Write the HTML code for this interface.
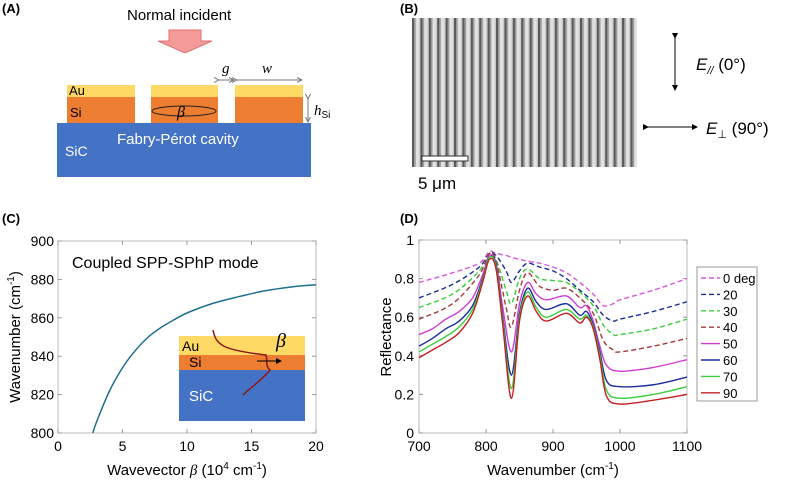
<!DOCTYPE html>
<html><head><meta charset="utf-8"><style>
body{margin:0;background:#fff;width:786px;height:481px;overflow:hidden;font-family:"Liberation Sans",sans-serif}
svg{position:absolute;left:0;top:0}
</style></head><body>
<svg width="786" height="481" viewBox="0 0 786 481" font-family="Liberation Sans, sans-serif">
<defs>
<pattern id="stripes" x="412" y="0" width="8.4" height="10" patternUnits="userSpaceOnUse">
<rect width="8.4" height="10" fill="#c8c8c8"/><rect x="0" width="2" height="10" fill="#5a5a5a"/><rect x="2" width="1.6" height="10" fill="#9a9a9a"/><rect x="4" width="3" height="10" fill="#e2e2e2"/>
</pattern>
<marker id="ah" markerWidth="6" markerHeight="6" refX="5" refY="3" orient="auto"><path d="M0,0L6,3L0,6z" fill="#000"/></marker>
<marker id="ahg" markerWidth="6" markerHeight="6" refX="5" refY="3" orient="auto"><path d="M0,0.5L5,3L0,5.5" fill="none" stroke="#777"/></marker>
</defs>
<!-- Panel A -->
<g>
<text x="2" y="13" font-size="13" font-weight="bold">(A)</text>
<text x="127" y="20" font-size="15">Normal incident</text>
<path d="M169,30h32v11h11l-27,12l-27,-12h11z" fill="#f49a98" stroke="#e07070"/>
<rect x="57" y="123" width="254" height="54" fill="#4472c4"/>
<g>
<rect x="67" y="85" width="68" height="12" fill="#ffd966"/><rect x="67" y="97" width="68" height="26" fill="#ed7d31"/>
<rect x="151" y="85" width="67" height="12" fill="#ffd966"/><rect x="151" y="97" width="67" height="26" fill="#ed7d31"/>
<rect x="235" y="85" width="68" height="12" fill="#ffd966"/><rect x="235" y="97" width="68" height="26" fill="#ed7d31"/>
</g>
<text x="69" y="95" font-size="13">Au</text>
<text x="70" y="117" font-size="13">Si</text>
<ellipse cx="184" cy="111" rx="32" ry="5" fill="none" stroke="#222"/>
<text x="177" y="117" font-size="16" font-style="italic" font-family="Liberation Serif, serif">β</text>
<text x="117" y="144" font-size="15" fill="#fff">Fabry-Pérot cavity</text>
<text x="65" y="156" font-size="14" fill="#fff">SiC</text>
<line x1="219" y1="80" x2="234" y2="80" stroke="#777" marker-end="url(#ahg)" marker-start="url(#ahg)"/>
<line x1="237" y1="80" x2="302" y2="80" stroke="#777" marker-end="url(#ahg)" marker-start="url(#ahg)"/>
<text x="222" y="73" font-size="15" font-style="italic" font-family="Liberation Serif, serif">g</text>
<text x="262" y="73" font-size="15" font-style="italic" font-family="Liberation Serif, serif">w</text>
<line x1="308" y1="99" x2="308" y2="122" stroke="#777" marker-end="url(#ahg)" marker-start="url(#ahg)"/>
<text x="314" y="115" font-size="15" font-style="italic" font-family="Liberation Serif, serif">h<tspan font-size="10" font-style="normal" font-family="Liberation Sans, sans-serif" dy="3">Si</tspan></text>
</g>
<!-- Panel B -->
<g>
<text x="400" y="13" font-size="13" font-weight="bold">(B)</text>
<rect x="412" y="18" width="225" height="149" fill="url(#stripes)"/>
<rect x="422" y="156" width="46" height="5" fill="#fff" stroke="#333"/>
<text x="418" y="189" font-size="17">5 μm</text>
<line x1="675" y1="38" x2="675" y2="90" stroke="#000" marker-end="url(#ah)" marker-start="url(#ah)"/>
<text x="696" y="70" font-size="17"><tspan font-style="italic">E</tspan><tspan font-size="11" font-style="italic" dy="4">//</tspan><tspan dy="-4"> (0°)</tspan></text>
<line x1="648" y1="127" x2="697" y2="127" stroke="#000" marker-end="url(#ah)" marker-start="url(#ah)"/>
<text x="706" y="134" font-size="17"><tspan font-style="italic">E</tspan><tspan font-size="11" dy="4">⊥</tspan><tspan dy="-4"> (90°)</tspan></text>
</g>
<!-- Panel C -->
<g>
<text x="2" y="223" font-size="13" font-weight="bold">(C)</text>
<g id="cAxes"></g>
<rect x="179" y="336" width="126" height="19" fill="#ffd966"/>
<rect x="179" y="355" width="126" height="15" fill="#ed7d31"/>
<rect x="179" y="370" width="126" height="51" fill="#4472c4"/>
<text x="182" y="351" font-size="14">Au</text><text x="189" y="367" font-size="14">Si</text>
<text x="189" y="401" font-size="15" fill="#fff">SiC</text>
<path d="M213,330 C216,345 222,350 266,355 C268,362 265,366 270,370 C262,380 250,388 243,395" fill="none" stroke="#8b1a1a" stroke-width="1.5"/>
<line x1="257" y1="361" x2="281" y2="361" stroke="#000" marker-end="url(#ah)"/>
<text x="276" y="347" font-size="20" font-style="italic" font-family="Liberation Serif, serif">β</text>
</g>
<!-- Panel D -->
<g>
<text x="400" y="223" font-size="13" font-weight="bold">(D)</text>
<g id="dAxes"></g>
</g>
</svg>
<script>
const NS="http://www.w3.org/2000/svg";
function mk(p,t,a,txt){const e=document.createElementNS(NS,t);for(const k in a)e.setAttribute(k,a[k]);if(txt!=null)e.textContent=txt;p.appendChild(e);return e;}
function smooth(pts){let d="M"+pts[0][0]+","+pts[0][1];for(let i=0;i<pts.length-1;i++){const p0=pts[i-1]||pts[i],p1=pts[i],p2=pts[i+1],p3=pts[i+2]||p2;
d+=" C"+(p1[0]+(p2[0]-p0[0])/6)+","+(p1[1]+(p2[1]-p0[1])/6)+" "+(p2[0]-(p3[0]-p1[0])/6)+","+(p2[1]-(p3[1]-p1[1])/6)+" "+p2[0]+","+p2[1];}return d;}

// ---- Panel C data ----
const cXTicks=[0,5,10,15,20];
const cYTicks=[800,820,840,860,880,900];
const cBeta=[2.7,3,4,5,6,7,8,9,10,12,14,16,18,20];
const cWave=[800,806,822,834,843,850,855,859,862.5,867.5,871,874,876,877.2];
const cx=v=>58+(v-0)/20*258, cy=v=>433-(v-800)/100*192;
const gC=document.getElementById('cAxes');
mk(gC,'rect',{x:58,y:241,width:258,height:192,fill:'none',stroke:'#bbb'});
cXTicks.forEach(t=>{const x=cx(t);mk(gC,'line',{x1:x,x2:x,y1:433,y2:429,stroke:'#999'});mk(gC,'line',{x1:x,x2:x,y1:241,y2:245,stroke:'#999'});
const tl=mk(gC,'text',{x:x,y:451,'font-size':14,'text-anchor':'middle'},t);

});
cYTicks.forEach(t=>{const y=cy(t);mk(gC,'line',{x1:58,x2:62,y1:y,y2:y,stroke:'#999'});mk(gC,'line',{x1:316,x2:312,y1:y,y2:y,stroke:'#999'});
const tl=mk(gC,'text',{x:54,y:y+5,'font-size':14,'text-anchor':'end'},t);

});
const cl=mk(gC,'path',{d:smooth(cBeta.map((b,i)=>[cx(b),cy(cWave[i])])),fill:'none',stroke:'#1f6f8f','stroke-width':1.5});


const ct=mk(gC,'text',{x:72,y:268,'font-size':16},'Coupled SPP-SPhP mode');


const cxl=mk(gC,'text',{x:187,y:475,'font-size':15,'text-anchor':'middle'});
cxl.innerHTML='Wavevector <tspan font-style="italic" font-family="Liberation Serif, serif">β</tspan> (10<tspan font-size="10" dy="-6">4</tspan><tspan dy="6"> cm</tspan><tspan font-size="10" dy="-6">-1</tspan><tspan dy="6">)</tspan>';


const cyl=mk(gC,'text',{x:0,y:0,'font-size':15,'text-anchor':'middle',transform:'translate(20,337) rotate(-90)'});
cyl.innerHTML='Wavenumber (cm<tspan font-size="10" dy="-6">-1</tspan><tspan dy="6">)</tspan>';



// ---- Panel D data ----
const dXTicks=[700,800,900,1000,1100];
const dYTicks=[0,0.2,0.4,0.6,0.8,1];
const dLabels=['0 deg','20','30','40','50','60','70','90'];
const dColors=['#d957d9','#1a2f8f','#3ccc3c','#a33a3a','#d23cd2','#1a2f9a','#3ccc3c','#c42020'];
const dDashed=[true,true,true,true,false,false,false,false];
const dX_dash=[700,750,790,805,815,830,838,850,862,880,900,920,940,960,975,990,1000,1050,1100];
const d0=[0.78,0.83,0.88,0.94,0.93,0.92,0.91,0.90,0.89,0.88,0.86,0.83,0.78,0.72,0.66,0.67,0.69,0.74,0.80];
const d20=[0.70,0.77,0.86,0.93,0.92,0.84,0.78,0.84,0.88,0.86,0.84,0.80,0.74,0.68,0.61,0.58,0.59,0.63,0.68];
const d30=[0.65,0.72,0.84,0.93,0.90,0.74,0.67,0.80,0.85,0.80,0.79,0.78,0.73,0.66,0.56,0.51,0.51,0.54,0.59];
const d40=[0.59,0.67,0.82,0.93,0.89,0.65,0.55,0.74,0.83,0.76,0.74,0.75,0.70,0.62,0.48,0.43,0.42,0.45,0.49];
const dX_solid=[700,720,740,760,780,795,805,815,825,838,850,862,875,890,920,940,950,960,970,980,1000,1050,1100];
const d50=[0.51,0.54,0.59,0.63,0.70,0.82,0.92,0.88,0.65,0.42,0.67,0.78,0.72,0.69,0.71,0.65,0.66,0.58,0.45,0.35,0.32,0.34,0.38];
const d60=[0.45,0.49,0.54,0.58,0.66,0.80,0.91,0.87,0.60,0.30,0.62,0.75,0.68,0.64,0.67,0.61,0.63,0.56,0.42,0.27,0.24,0.25,0.29];
const d70=[0.42,0.46,0.50,0.55,0.64,0.79,0.91,0.86,0.58,0.23,0.60,0.73,0.65,0.60,0.64,0.59,0.61,0.55,0.40,0.22,0.18,0.20,0.24];
const d90=[0.39,0.43,0.47,0.52,0.62,0.78,0.90,0.85,0.56,0.18,0.58,0.71,0.63,0.58,0.62,0.57,0.60,0.54,0.38,0.19,0.15,0.17,0.20];
const dSeries=[d0,d20,d30,d40,d50,d60,d70,d90];
const dx=v=>419+(v-700)/400*268, dy=v=>433-v*193;
const gD=document.getElementById('dAxes');
mk(gD,'rect',{x:419,y:240,width:268,height:193,fill:'none',stroke:'#bbb'});
dXTicks.forEach(t=>{const x=dx(t);mk(gD,'line',{x1:x,x2:x,y1:433,y2:429,stroke:'#999'});mk(gD,'line',{x1:x,x2:x,y1:240,y2:244,stroke:'#999'});
const tl=mk(gD,'text',{x:x,y:451,'font-size':14,'text-anchor':'middle'},t);

});
dYTicks.forEach(t=>{const y=dy(t);mk(gD,'line',{x1:419,x2:423,y1:y,y2:y,stroke:'#999'});mk(gD,'line',{x1:687,x2:683,y1:y,y2:y,stroke:'#999'});
const tl=mk(gD,'text',{x:414,y:y+5,'font-size':14,'text-anchor':'end'},t);

});
dSeries.forEach((s,i)=>{const xs=dDashed[i]?dX_dash:dX_solid;
const p=mk(gD,'path',{d:smooth(s.map((v,j)=>[dx(xs[j]),dy(v)])),fill:'none',stroke:dColors[i],'stroke-width':1.4});
if(dDashed[i])p.setAttribute('stroke-dasharray','5,3');

});
const lg=mk(gD,'rect',{x:697,y:267,width:60,height:134,fill:'#fff',stroke:'#999'});


dLabels.forEach((l,i)=>{const y=278+i*16.4;
const ln=mk(gD,'line',{x1:701,x2:720,y1:y,y2:y,stroke:dColors[i],'stroke-width':1.4});
if(dDashed[i])ln.setAttribute('stroke-dasharray','5,3');
const t=mk(gD,'text',{x:723,y:y+5,'font-size':13},l);

});
const dxl=mk(gD,'text',{x:553,y:475,'font-size':15,'text-anchor':'middle'});
dxl.innerHTML='Wavenumber (cm<tspan font-size="10" dy="-6">-1</tspan><tspan dy="6">)</tspan>';


const dyl=mk(gD,'text',{x:0,y:0,'font-size':15,'text-anchor':'middle',transform:'translate(391,337) rotate(-90)'},'Reflectance');


</script>
</body></html>
